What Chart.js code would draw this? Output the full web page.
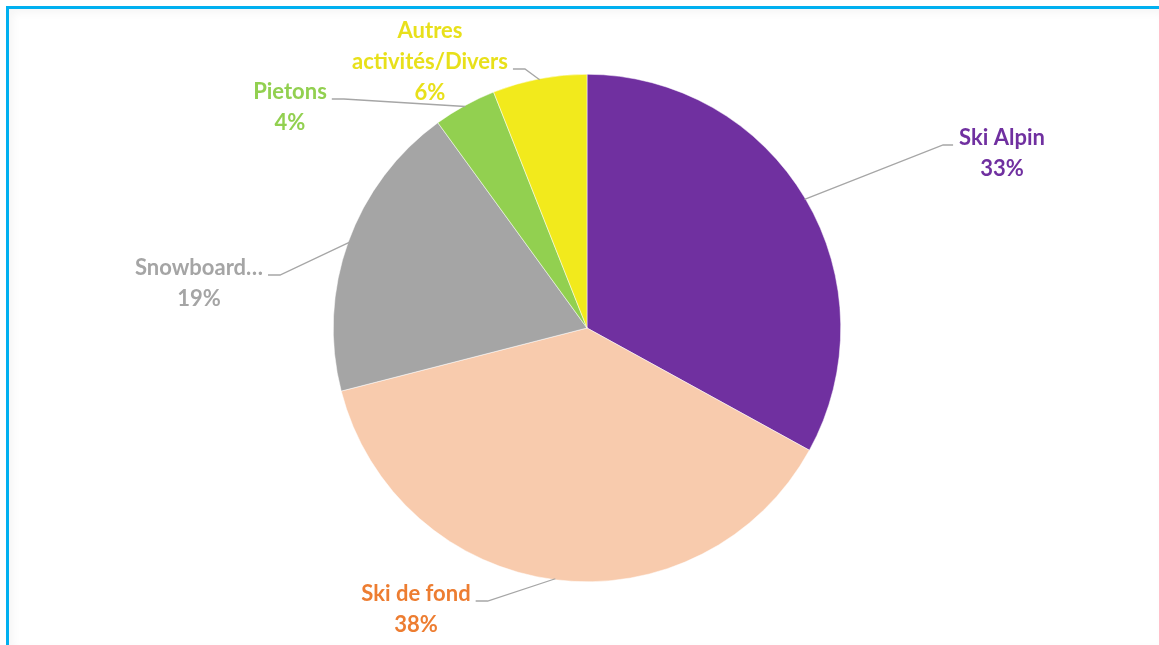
<!DOCTYPE html>
<html>
<head>
<meta charset="utf-8">
<script src="https://cdn.jsdelivr.net/npm/chart.js@4.4.1/dist/chart.umd.min.js"></script>
<style>
    html, body { margin: 0; padding: 0; background: #fff; overflow: hidden; }
    #wrap { position: relative; width: 1159px; height: 645px; overflow: hidden; }
    .edge { position: absolute; background: #00b0f0; }
    #edgeTop { left: 6px; top: 6px; width: 1153px; height: 3px; }
    #edgeLeft { left: 6px; top: 6px; width: 3px; height: 639px; }
    #shade { position: absolute; left: 9px; top: 9px; width: 1150px; height: 636px;
        box-shadow: inset 4px 4px 8px rgba(0,0,0,0.04); }
    canvas { position: absolute; left: 0; top: 0; }
</style>
</head>
<body>
<div id="wrap">
    <div id="shade"></div>
    <div class="edge" id="edgeTop"></div>
    <div class="edge" id="edgeLeft"></div>
    <canvas id="pie" width="1159" height="645"></canvas>
</div>
<script>
// Data
const categories = ['Ski Alpin', 'Ski de fond', 'Snowboard…', 'Pietons', 'Autres activités/Divers'];
const shares = [33, 38, 19, 4, 6];
const sliceColors = ['#7030a0', '#f8cbad', '#a5a5a5', '#92d050', '#f2ea1c'];
const textColors = ['#7030a0', '#ed7d31', '#a5a5a5', '#92d050', '#e8e01a'];

// label text lines and where the labels sit (center x, first line y, side of the leader line)
const labelLines = [
    ['Ski Alpin', '33%'],
    ['Ski de fond', '38%'],
    ['Snowboard…', '19%'],
    ['Pietons', '4%'],
    ['Autres', 'activités/Divers', '6%']
];
const labelPos = [
    { x: 1002, y: 138, side: 'left', line: 0 },
    { x: 416, y: 594, side: 'right', line: 0 },
    { x: 199, y: 268, side: 'right', line: 0 },
    { x: 290, y: 92, side: 'right', line: 0 },
    { x: 430, y: 31, side: 'right', line: 1 }
];
const lineHeight = 31;
const labelFont = 'bold 22px Lato';

const leaderLabels = {
    id: 'leaderLabels',
    afterDraw(chart) {
        const ctx = chart.ctx;
        const arcs = chart.getDatasetMeta(0).data;
        ctx.save();
        ctx.font = labelFont;
        ctx.textAlign = 'center';
        ctx.textBaseline = 'middle';
        arcs.forEach((arc, i) => {
            const p = labelPos[i];
            const mid = (arc.startAngle + arc.endAngle) / 2;
            const ex = arc.x + Math.cos(mid) * (arc.outerRadius - 1);
            const ey = arc.y + Math.sin(mid) * (arc.outerRadius - 1);
            const w = ctx.measureText(labelLines[i][p.line]).width;
            const ly = p.y + p.line * lineHeight + 7;
            let tx, kx;
            if (p.side === 'left') {
                tx = p.x - w / 2 - 6;
                kx = tx - 10;
            } else {
                tx = p.x + w / 2 + 5;
                kx = tx + 12;
            }
            ctx.strokeStyle = '#a6a6a6';
            ctx.lineWidth = 1.3;
            ctx.beginPath();
            ctx.moveTo(tx, ly);
            ctx.lineTo(kx, ly);
            ctx.lineTo(ex, ey);
            ctx.stroke();

            ctx.fillStyle = textColors[i];
            labelLines[i].forEach((t, j) => {
                ctx.fillText(t, p.x, p.y + j * lineHeight);
            });
        });
        ctx.restore();
    }
};

const ctx = document.getElementById('pie').getContext('2d');
const pieChart = new Chart(ctx, {
    type: 'pie',
    data: {
        labels: categories,
        datasets: [{
            data: shares,
            backgroundColor: sliceColors,
            borderColor: '#ffffff',
            borderWidth: 0.5
        }]
    },
    options: {
        responsive: false,
        animation: false,
        layout: { padding: { left: 15, right: 0, top: 74, bottom: 63 } },
        plugins: {
            legend: { display: false },
            tooltip: { enabled: false }
        }
    },
    plugins: [leaderLabels]
});
</script>
</body>
</html>
